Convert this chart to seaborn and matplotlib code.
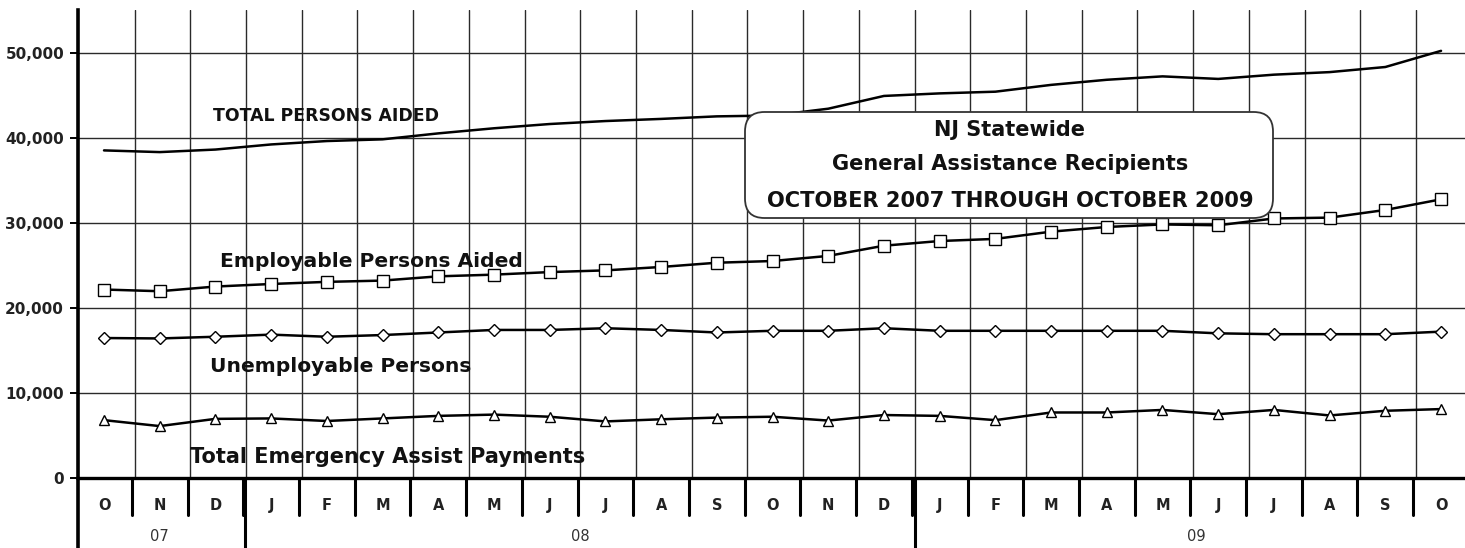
import numpy as np
import pandas as pd
import matplotlib
matplotlib.use("Agg")
import matplotlib.pyplot as plt
import seaborn as sns
from matplotlib.patches import FancyBboxPatch
from matplotlib.transforms import blended_transform_factory

# ---------------- data ----------------
month_labels = ["O", "N", "D", "J", "F", "M", "A", "M", "J", "J", "A", "S",
                "O", "N", "D", "J", "F", "M", "A", "M", "J", "J", "A", "S", "O"]
year_labels = ["07", "08", "09"]
total_persons = [38500, 38300, 38600, 39200, 39600, 39800, 40500, 41100, 41600,
                 41950, 42200, 42500, 42600, 43400, 44900, 45200, 45400, 46200,
                 46800, 47200, 46900, 47400, 47700, 48300, 50200]
employable = [22150, 21950, 22500, 22800, 23050, 23200, 23700, 23900, 24200,
              24400, 24800, 25300, 25500, 26100, 27300, 27850, 28100, 28950,
              29500, 29800, 29700, 30500, 30600, 31500, 32750]
unemployable = [16450, 16400, 16600, 16850, 16600, 16800, 17100, 17400, 17400,
                17600, 17400, 17100, 17300, 17300, 17600, 17300, 17300, 17300,
                17300, 17300, 17000, 16900, 16900, 16900, 17200]
emergency = [6800, 6100, 6950, 7000, 6700, 7000, 7300, 7450, 7200, 6650, 6900,
             7100, 7200, 6750, 7400, 7300, 6800, 7700, 7700, 8000, 7500, 8000,
             7350, 7900, 8100]

idx = np.arange(len(month_labels))

sns.set_theme(style="white")
plt.rcParams["font.family"] = ["DejaVu Sans"]

fig = plt.figure(figsize=(14.65, 5.48), dpi=100)
ax = fig.add_axes([78 / 1465, 1 - 478 / 548, 1 - 78 / 1465, 468 / 548])

ax.set_xlim(-0.467, 24.43)
ax.set_ylim(0, 55000)

# grid
ax.set_yticks([0, 10000, 20000, 30000, 40000, 50000])
ax.set_yticklabels(["0", "10,000", "20,000", "30,000", "40,000", "50,000"],
                   fontweight="bold", fontsize=11, color="#222222")
ax.set_xticks([])
for v in [10000, 20000, 30000, 40000, 50000]:
    ax.axhline(v, color="#2a2a2a", lw=1.0, zorder=1)
for i in range(24):
    ax.axvline(i + 0.55, color="#2a2a2a", lw=1.0, zorder=1)
ax.tick_params(axis="y", direction="out", length=6, width=1.4, color="black",
               left=True, pad=4)

for s in ["top", "right"]:
    ax.spines[s].set_visible(False)
ax.spines["left"].set_linewidth(2.6)
ax.spines["left"].set_color("black")
ax.spines["bottom"].set_linewidth(2.4)
ax.spines["bottom"].set_color("black")
ax.spines["left"].set_bounds(0, 55000)

# series
common = dict(ax=ax, color="black", linewidth=1.8, zorder=3)
sns.lineplot(x=idx, y=total_persons, **common)
sns.lineplot(x=idx, y=employable, marker="s", markersize=8,
             markerfacecolor="white", markeredgecolor="black", mew=1.0, **common)
sns.lineplot(x=idx, y=unemployable, marker="D", markersize=5.8,
             markerfacecolor="white", markeredgecolor="black", mew=1.0, **common)
sns.lineplot(x=idx, y=emergency, marker="^", markersize=7.5,
             markerfacecolor="white", markeredgecolor="black", mew=1.0, **common)

# in-plot labels
ax.text(1.96, 42500, "TOTAL PERSONS AIDED", fontsize=12.4, fontweight="bold",
        va="center", ha="left", color="#111111", zorder=4)
ax.text(2.08, 25400, "Employable Persons Aided", fontsize=14.6, fontweight="bold",
        va="center", ha="left", color="#111111", zorder=4)
ax.text(1.9, 13050, "Unemployable Persons", fontsize=14.6, fontweight="bold",
        va="center", ha="left", color="#111111", zorder=4)
ax.text(1.54, 2450, "Total Emergency Assist Payments", fontsize=15,
        fontweight="bold", va="center", ha="left", color="#111111", zorder=4)

# title box
x0, x1 = (745 - 78) / 1387, (1273 - 78) / 1387
y0, y1 = (478 - 218) / 468, (478 - 112) / 468
box = FancyBboxPatch((x0, y0), x1 - x0, y1 - y0,
                     boxstyle="round,pad=0,rounding_size=0.014",
                     mutation_aspect=2.96, transform=ax.transAxes,
                     facecolor="white", edgecolor="#333333", lw=1.3, zorder=5)
ax.add_patch(box)
cx = (1010 - 78) / 1387
ax.text(cx, (478 - 130) / 468, "NJ Statewide", transform=ax.transAxes,
        ha="center", va="center", fontsize=15, fontweight="bold", zorder=6,
        color="#111111")
ax.text(cx, (478 - 164) / 468, "General Assistance Recipients",
        transform=ax.transAxes, ha="center", va="center", fontsize=15,
        fontweight="bold", zorder=6, color="#111111")
ax.text(cx, (478 - 201) / 468, "OCTOBER 2007 THROUGH OCTOBER 2009",
        transform=ax.transAxes, ha="center", va="center", fontsize=15.1,
        fontweight="bold", zorder=6, color="#111111")

# bottom category table
trans = blended_transform_factory(ax.transData, ax.transAxes)
for i, m in enumerate(month_labels):
    ax.text(i, -0.058, m, transform=trans, ha="center", va="center",
            fontsize=10.5, fontweight="bold", color="#222222", clip_on=False)
for i in range(24):
    ax.plot([i + 0.5, i + 0.5], [0, -0.079], transform=trans, color="black",
            lw=2.2, clip_on=False)
for xb in [2.53, 14.55]:
    ax.plot([xb, xb], [0, -0.16], transform=trans, color="black", lw=2.2,
            clip_on=False)
ax.plot([-0.467, -0.467], [0, -0.16], transform=trans, color="black", lw=2.6,
        clip_on=False)
for xpos, yl in zip([1.0, 8.55, 19.6], year_labels):
    ax.text(xpos, -0.126, yl, transform=trans, ha="center", va="center",
            fontsize=10.5, color="#333333", clip_on=False)

fig.savefig("out.png", dpi=100, facecolor="white")
